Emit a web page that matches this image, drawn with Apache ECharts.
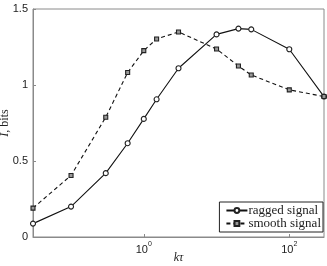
<!DOCTYPE html>
<html><head><meta charset="utf-8">
<script src="https://cdn.jsdelivr.net/npm/echarts@6/dist/echarts.min.js"></script>
<style>html,body{margin:0;padding:0;background:#fff}#c{width:327px;height:266px}</style>
</head><body><div id="c"></div>
<script>
const xValues = [0.03, 0.1, 0.3, 0.6, 1, 1.5, 3, 10, 20, 30, 100, 300];
const raggedValues = [0.088, 0.20, 0.42, 0.617, 0.777, 0.906, 1.11, 1.333, 1.371, 1.366, 1.235, 0.924];
const smoothValues = [0.19, 0.405, 0.788, 1.082, 1.226, 1.303, 1.349, 1.237, 1.125, 1.066, 0.968, 0.924];
const xTickValues = [1, 100];
const yTickLabels = ['0', '0.5', '1', '1.5'];

const chart = echarts.init(document.getElementById('c'), null, {renderer: 'canvas'});
const frame = '#8a8a8a';
const txt = '#222';
chart.setOption({
  animation: false,
  grid: {left: 33, right: 3, top: 9, bottom: 29, containLabel: false, outerBoundsMode: 'none',
    show: true, borderColor: frame, borderWidth: 1, backgroundColor: 'transparent'},
  xAxis: {
    type: 'log', logBase: 10, min: 0.03, max: 300,
    axisLine: {show: true, lineStyle: {color: frame, width: 1}},
    axisTick: {show: true, inside: true, length: 3, lineStyle: {color: frame}, customValues: xTickValues},
    splitLine: {show: false},
    minorTick: {show: false},
    axisLabel: {
      customValues: xTickValues, margin: 4, color: txt,
      fontFamily: 'Liberation Sans', fontSize: 11,
      formatter: v => '{b|10}{s|' + Math.round(Math.log10(v)) + '}',
      rich: {
        b: {fontFamily: 'Liberation Sans', fontSize: 11, color: txt, lineHeight: 14, verticalAlign: 'bottom'},
        s: {fontFamily: 'Liberation Sans', fontSize: 7, color: txt, lineHeight: 14, verticalAlign: 'top'}
      }
    },
    name: '{i|kτ}', nameLocation: 'middle', nameGap: 15, nameMoveOverlap: false,
    nameTextStyle: {rich: {i: {fontFamily: 'Liberation Serif', fontStyle: 'italic', fontSize: 12, color: txt}}}
  },
  yAxis: {
    type: 'value', min: 0, max: 1.5, interval: 0.5,
    axisLine: {show: true, lineStyle: {color: frame, width: 1}},
    axisTick: {show: true, inside: true, length: 3, lineStyle: {color: frame}},
    splitLine: {show: false},
    axisLabel: {
      margin: 5, color: txt, fontFamily: 'Liberation Sans', fontSize: 11,
      formatter: v => yTickLabels[Math.round(v / 0.5)]
    },
    name: '{i|I}{r|, bits}', nameLocation: 'middle', nameGap: 22, nameRotate: 90, nameMoveOverlap: false,
    nameTextStyle: {rich: {
      i: {fontFamily: 'Liberation Serif', fontStyle: 'italic', fontSize: 12, color: txt},
      r: {fontFamily: 'Liberation Serif', fontSize: 12, color: txt}
    }}
  },
  legend: {
    orient: 'vertical', right: 4, bottom: 34, selectedMode: false,
    backgroundColor: '#fff', borderColor: '#222', borderWidth: 1, borderRadius: 0,
    padding: [2, 2, 2, 6], itemGap: 0, itemWidth: 21, itemHeight: 6,
    textStyle: {fontFamily: 'Liberation Serif', fontSize: 13, lineHeight: 10, color: txt, padding: [0, 0, 0, -4]},
    data: ['ragged signal', 'smooth signal']
  },
  series: [
    {
      name: 'ragged signal', type: 'line',
      data: xValues.map((x, i) => [x, raggedValues[i]]),
      symbol: 'circle', symbolSize: 5, showAllSymbol: true,
      lineStyle: {color: '#111', width: 1.1, type: 'solid'},
      itemStyle: {color: '#fff', borderColor: '#222', borderWidth: 1.1}
    },
    {
      name: 'smooth signal', type: 'line',
      data: xValues.map((x, i) => [x, smoothValues[i]]),
      symbol: 'rect', symbolSize: 4, showAllSymbol: true,
      lineStyle: {color: '#111', width: 1.1, type: [4, 3]},
      itemStyle: {color: '#999', borderColor: '#222', borderWidth: 1.1}
    }
  ]
});
</script></body></html>
